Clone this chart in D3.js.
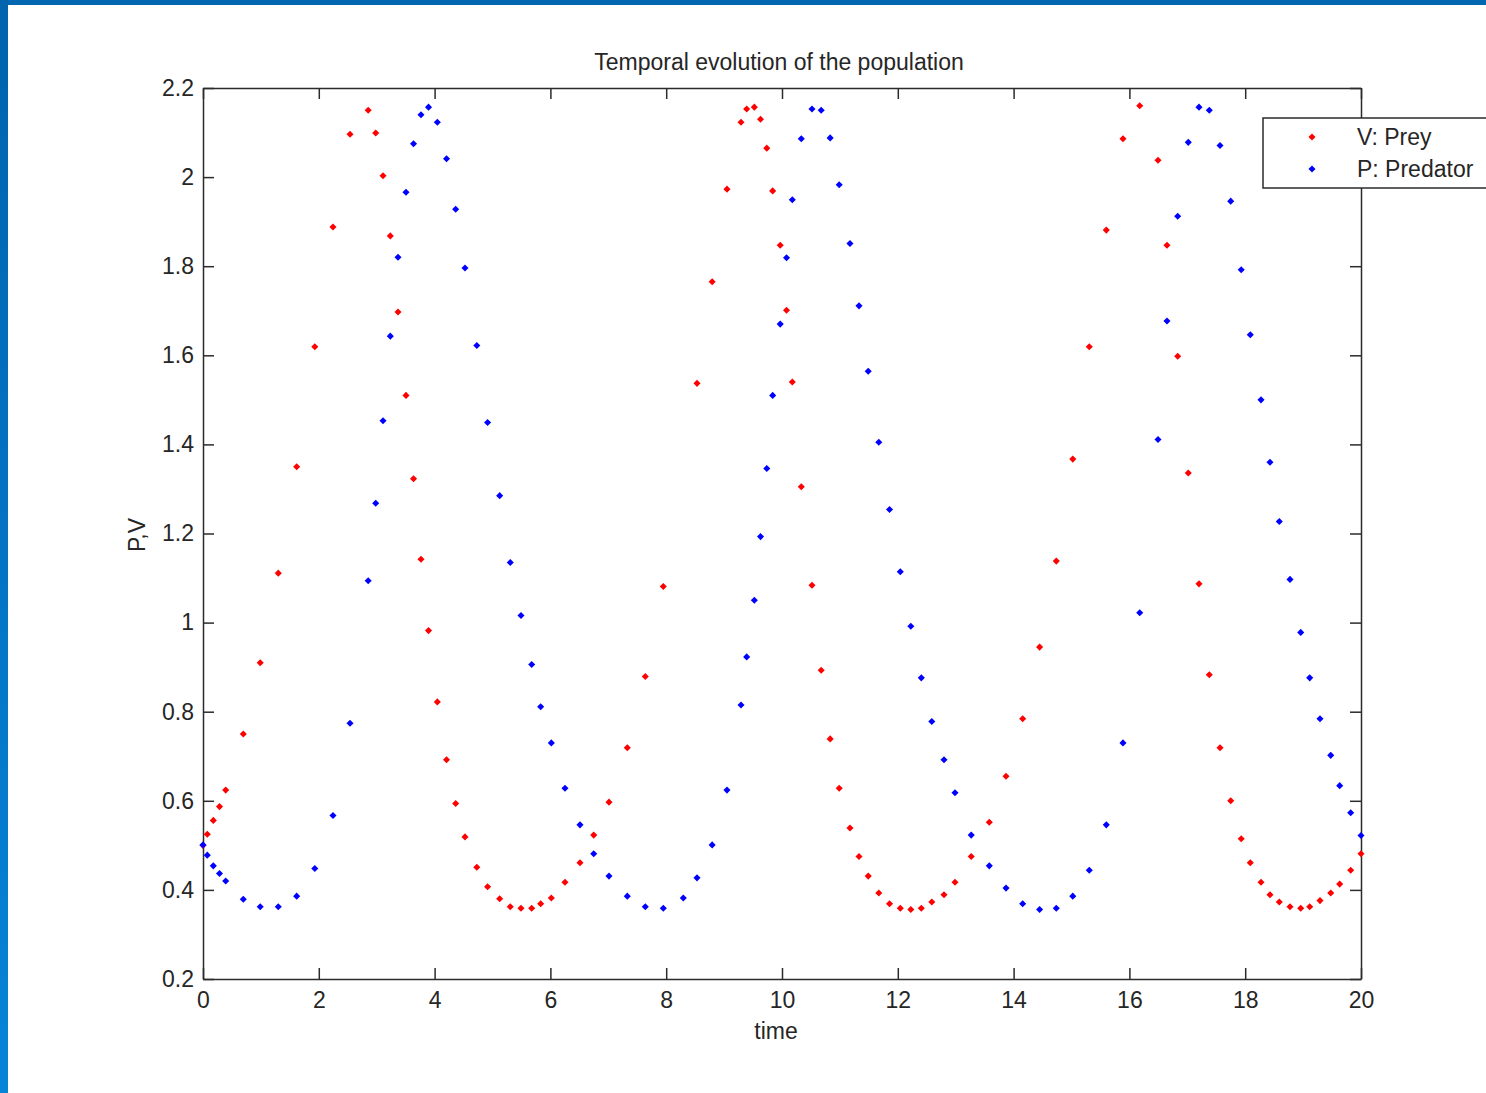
<!DOCTYPE html>
<html>
<head>
<meta charset="utf-8">
<script src="https://cdn.jsdelivr.net/npm/d3@7"></script>
<style>
  body { margin: 0; background: #fff; }
  svg { display: block; font-family: "Liberation Sans", Arial, sans-serif; }
  .axis text { font-size: 23px; fill: #262626; }
  .axis path, .axis line { stroke: #2b2b2b; stroke-width: 1.5; }
</style>
</head>
<body>
<svg id="chart" width="1486" height="1093"></svg>
<script>
// time samples (solver output)
var time = [0, 0.074, 0.178, 0.285, 0.392, 0.696, 0.988, 1.300, 1.618, 1.931,
  2.245, 2.539, 2.853, 2.983, 3.109, 3.235, 3.368, 3.506, 3.636, 3.765,
  3.895, 4.047, 4.206, 4.364, 4.525, 4.729, 4.915, 5.124, 5.307, 5.492,
  5.677, 5.832, 6.016, 6.252, 6.511, 6.748, 7.012, 7.328, 7.639, 7.950,
  8.295, 8.532, 8.794, 9.050, 9.292, 9.390, 9.522, 9.629, 9.737, 9.839,
  9.969, 10.078, 10.178, 10.333, 10.518, 10.677, 10.832, 10.988, 11.174, 11.330,
  11.489, 11.672, 11.857, 12.043, 12.225, 12.406, 12.587, 12.798, 12.988, 13.268,
  13.580, 13.869, 14.157, 14.449, 14.737, 15.022, 15.307, 15.601, 15.889, 16.178,
  16.494, 16.649, 16.834, 17.017, 17.202, 17.380, 17.565, 17.750, 17.931, 18.088,
  18.273, 18.428, 18.589, 18.774, 18.959, 19.114, 19.292, 19.477, 19.632, 19.822, 20];

// V: prey
var prey = [0.50, 0.525, 0.556, 0.587, 0.624, 0.750, 0.910, 1.111, 1.350, 1.619,
  1.888, 2.096, 2.150, 2.099, 2.003, 1.868, 1.697, 1.510, 1.323, 1.142,
  0.982, 0.822, 0.692, 0.594, 0.519, 0.451, 0.407, 0.380, 0.362, 0.359,
  0.359, 0.369, 0.382, 0.417, 0.461, 0.523, 0.597, 0.719, 0.879, 1.081,
  null, 1.537, 1.765, 1.973, 2.123, 2.153, 2.157, 2.130, 2.065, 1.969,
  1.847, 1.701, 1.540, 1.305, 1.084, 0.893, 0.739, 0.628, 0.539, 0.475,
  0.431, 0.393, 0.369, 0.359, 0.356, 0.359, 0.373, 0.389, 0.417, 0.475,
  0.552, 0.655, 0.784, 0.945, 1.138, 1.367, 1.619, 1.881, 2.086, 2.160,
  2.038, 1.847, 1.598, 1.336, 1.087, 0.883, 0.719, 0.600, 0.515, 0.461,
  0.417, 0.389, 0.373, 0.362, 0.359, 0.362, 0.376, 0.393, 0.413, 0.444, 0.481];

// P: predator
var predator = [0.501, 0.478, 0.454, 0.437, 0.420, 0.379, 0.362, 0.362, 0.386, 0.448,
  0.567, 0.774, 1.094, 1.268, 1.453, 1.643, 1.820, 1.966, 2.075, 2.140,
  2.157, 2.123, 2.041, 1.928, 1.796, 1.622, 1.449, 1.285, 1.135, 1.016,
  0.906, 0.811, 0.730, 0.628, 0.546, 0.481, 0.431, 0.386, 0.362, 0.359,
  0.382, 0.427, 0.501, 0.624, 0.815, 0.923, 1.050, 1.193, 1.346, 1.510,
  1.670, 1.819, 1.949, 2.086, 2.153, 2.150, 2.088, 1.983, 1.851, 1.711,
  1.564, 1.405, 1.254, 1.114, 0.992, 0.876, 0.778, 0.692, 0.618, 0.523,
  0.454, 0.404, 0.369, 0.356, 0.359, 0.386, 0.444, 0.546, 0.730, 1.022,
  1.411, 1.677, 1.912, 2.078, 2.157, 2.150, 2.071, 1.946, 1.792, 1.646,
  1.500, 1.360, 1.227, 1.097, 0.978, 0.876, 0.784, 0.702, 0.634, 0.573, 0.522];

var xTicks = d3.range(0, 21, 2);
var yTicks = [0.2, 0.4, 0.6, 0.8, 1, 1.2, 1.4, 1.6, 1.8, 2, 2.2];
var seriesNames = ["V: Prey", "P: Predator"];
var seriesColors = ["#ff0000", "#0000ff"];

var svg = d3.select("#chart");
var plotLeft = 203, plotRight = 1361, plotTop = 88, plotBottom = 979;

// window frame
var defs = svg.append("defs");
var grad = defs.append("linearGradient").attr("id", "sidebar")
  .attr("x1", 0).attr("y1", 0).attr("x2", 0).attr("y2", 1);
grad.append("stop").attr("offset", "0%").attr("stop-color", "#0063ad");
grad.append("stop").attr("offset", "100%").attr("stop-color", "#0684d8");
svg.append("rect").attr("x", 0).attr("y", 0).attr("width", 1486).attr("height", 5).attr("fill", "#0066b0");
svg.append("rect").attr("x", 0).attr("y", 0).attr("width", 8).attr("height", 1093).attr("fill", "url(#sidebar)");

var x = d3.scaleLinear().domain([0, 20]).range([plotLeft, plotRight]);
var y = d3.scaleLinear().domain([0.2, 2.2]).range([plotBottom, plotTop]);
var fmtY = function(d) { return d3.format("~g")(d); };

svg.append("g").attr("class", "axis")
  .attr("transform", "translate(0," + plotBottom + ")")
  .call(d3.axisBottom(x).tickValues(xTicks).tickSizeInner(-11).tickSizeOuter(0).tickPadding(13).tickFormat(d3.format("d")));
svg.append("g").attr("class", "axis")
  .attr("transform", "translate(0," + plotTop + ")")
  .call(d3.axisTop(x).tickValues(xTicks).tickSizeInner(-11).tickSizeOuter(0).tickFormat(""));
svg.append("g").attr("class", "axis")
  .attr("transform", "translate(" + plotLeft + ",0)")
  .call(d3.axisLeft(y).tickValues(yTicks).tickSizeInner(-11).tickSizeOuter(0).tickPadding(9).tickFormat(fmtY));
svg.append("g").attr("class", "axis")
  .attr("transform", "translate(" + plotRight + ",0)")
  .call(d3.axisRight(y).tickValues(yTicks).tickSizeInner(-11).tickSizeOuter(0).tickFormat(""));

// titles
svg.append("text").attr("x", 779).attr("y", 70).attr("text-anchor", "middle")
  .style("font-size", "23px").attr("fill", "#262626").text("Temporal evolution of the population");
svg.append("text").attr("x", 776).attr("y", 1039).attr("text-anchor", "middle")
  .style("font-size", "23px").attr("fill", "#262626").text("time");
svg.append("text").attr("transform", "translate(145,535) rotate(-90)").attr("text-anchor", "middle")
  .style("font-size", "23px").attr("fill", "#262626").text("P,V");

var marker = d3.symbol().type(d3.symbolSquare).size(25);

function drawSeries(values, color) {
  var pts = time.map(function(t, i) { return [t, values[i]]; })
    .filter(function(d) { return d[1] != null; });
  svg.append("g").selectAll("path")
    .data(pts)
    .enter()
    .append("path")
      .attr("d", marker)
      .attr("transform", function(d) { return "translate(" + x(d[0]) + "," + y(d[1]) + ") rotate(45)"; })
      .attr("fill", color);
}
drawSeries(prey, seriesColors[0]);
drawSeries(predator, seriesColors[1]);

// legend
var legend = svg.append("g").attr("transform", "translate(1263,118)");
legend.append("rect").attr("width", 240).attr("height", 70)
  .attr("fill", "#fff").attr("stroke", "#2b2b2b").attr("stroke-width", 1.5);
seriesNames.forEach(function(name, i) {
  var row = legend.append("g").attr("transform", "translate(0," + (19 + i * 32) + ")");
  row.append("path").attr("d", marker).attr("transform", "translate(49,0) rotate(45)").attr("fill", seriesColors[i]);
  row.append("text").attr("x", 94).attr("dy", "0.35em").style("font-size", "23px")
    .attr("fill", "#262626").text(name);
});
</script>
</body>
</html>
